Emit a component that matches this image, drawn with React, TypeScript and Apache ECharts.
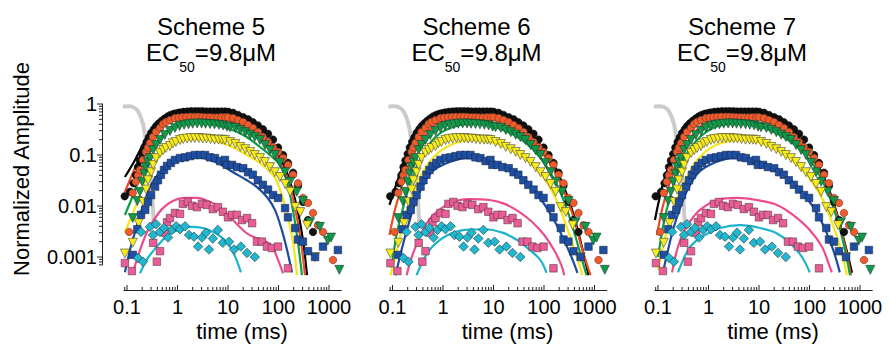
import React, { useEffect, useRef } from 'react';
import * as echarts from 'echarts';

// ---------- text ----------
const panelTitles = ['Scheme 5', 'Scheme 6', 'Scheme 7'];
const ecLabel = { pre: 'EC', sub: '50', post: '=9.8\u03bcM' };
const xTickLabels = ['0.1', '1', '10', '100', '1000'];
const yTickLabels = ['0.001', '0.01', '0.1', '1'];
const xAxisTitle = 'time (ms)';
const yAxisTitle = 'Normalized Amplitude';

// ---------- data: [time (ms), normalized amplitude] ----------
const stimulusTrace = [[0.083,0.88],[0.1,0.9],[0.12,0.89],[0.14,0.84],[0.158,0.76],[0.18,0.61],[0.207,0.405],[0.227,0.247],[0.245,0.16],[0.26,0.12],[0.285,0.07],[0.3,0.04],[0.313,0.021],[0.327,0.0084],[0.343,0.0037]];

const blackCircles = [[0.09,0.0155],[0.115,0.019],[0.135,0.028],[0.15,0.04],[0.165,0.058],[0.18,0.078],[0.2,0.105],[0.22,0.14],[0.245,0.18],[0.27,0.22],[0.3,0.27],[0.34,0.32],[0.38,0.37],[0.43,0.42],[0.49,0.47],[0.56,0.52],[0.64,0.57],[0.73,0.61],[0.84,0.64],[0.96,0.66],[1.1,0.68],[1.3,0.7],[1.55,0.71],[1.85,0.72],[2.2,0.72],[2.6,0.72],[3.1,0.72],[3.7,0.71],[4.4,0.71],[5.2,0.71],[6.2,0.71],[7.4,0.71],[8.8,0.71],[10.2,0.7],[12.6,0.67],[15.8,0.61],[20,0.55],[25,0.5],[31,0.44],[39,0.38],[49,0.32],[62,0.26],[78,0.2],[98,0.14],[123,0.1],[154,0.07],[194,0.045],[243,0.025],[305,0.012],[384,0.0053],[482,0.0031]];
const orangeCircles = [[0.11,0.0031],[0.13,0.018],[0.15,0.03],[0.165,0.04],[0.18,0.051],[0.207,0.08],[0.238,0.115],[0.26,0.14],[0.285,0.172],[0.327,0.225],[0.375,0.282],[0.45,0.339],[0.516,0.405],[0.59,0.444],[0.71,0.485],[0.89,0.53],[1.05,0.54],[1.25,0.55],[1.5,0.555],[1.8,0.56],[2.2,0.56],[2.6,0.56],[3.1,0.555],[3.7,0.55],[4.4,0.55],[5.2,0.545],[6.2,0.545],[7.4,0.55],[8.8,0.55],[10,0.55],[12.6,0.53],[15.8,0.485],[19.9,0.444],[24.9,0.388],[31.3,0.339],[39.3,0.282],[49.3,0.225],[62,0.18],[78,0.144],[98,0.115],[123,0.087],[154,0.064],[194,0.041],[243,0.028],[305,0.0144],[384,0.0115],[482,0.0073],[605,0.0042],[760,0.0031],[1200,0.00087]];
const greenTriangles = [[0.13,0.0058],[0.16,0.0125],[0.18,0.019],[0.2,0.03],[0.22,0.043],[0.238,0.058],[0.26,0.072],[0.285,0.087],[0.33,0.125],[0.375,0.157],[0.45,0.197],[0.56,0.247],[0.71,0.295],[0.89,0.34],[1.1,0.37],[1.35,0.39],[1.65,0.4],[2.0,0.41],[2.45,0.415],[3.0,0.415],[3.6,0.41],[4.4,0.405],[5.4,0.4],[6.6,0.39],[8.0,0.38],[9.6,0.36],[11,0.35],[14,0.34],[17.5,0.31],[22,0.28],[27.5,0.25],[34,0.225],[43,0.197],[54,0.157],[68,0.125],[85,0.1],[107,0.07],[135,0.046],[170,0.03],[230,0.019],[305,0.0125],[420,0.0048],[660,0.0039],[950,0.0021],[1100,0.0024],[1600,0.00056]];
const yellowTriangles = [[0.091,0.00117],[0.13,0.0019],[0.17,0.0046],[0.21,0.012],[0.24,0.021],[0.26,0.032],[0.3,0.046],[0.33,0.064],[0.375,0.087],[0.45,0.11],[0.52,0.125],[0.59,0.137],[0.71,0.15],[0.81,0.17],[0.93,0.18],[1.12,0.197],[1.3,0.205],[1.55,0.21],[1.85,0.215],[2.2,0.215],[2.65,0.215],[3.15,0.21],[3.75,0.21],[4.5,0.205],[5.4,0.2],[6.5,0.2],[7.6,0.2],[8.7,0.197],[11,0.18],[14,0.165],[17.5,0.144],[22,0.13],[27.5,0.115],[34,0.1],[43,0.087],[54,0.073],[68,0.058],[85,0.046],[107,0.037],[135,0.027],[170,0.019],[215,0.0095],[270,0.0076],[370,0.0042],[530,0.001]];
const blueSquares = [[0.13,0.0011],[0.16,0.0035],[0.19,0.0067],[0.23,0.0084],[0.26,0.012],[0.3,0.0164],[0.36,0.024],[0.41,0.032],[0.47,0.041],[0.54,0.051],[0.62,0.061],[0.74,0.07],[0.89,0.08],[1.12,0.087],[1.41,0.09],[1.77,0.095],[2.22,0.1],[2.79,0.1],[3.5,0.1],[4.4,0.09],[5.5,0.087],[7,0.076],[8.7,0.08],[9.5,0.064],[12,0.064],[15,0.058],[20,0.055],[25,0.046],[31,0.041],[39,0.032],[49,0.026],[62,0.021],[78,0.0164],[98,0.0144],[135,0.0091],[154,0.006],[215,0.0037],[243,0.0022],[305,0.002],[384,0.0013],[530,0.001],[760,0.0016],[1500,0.00137]];
const pinkSquares = [[0.091,0.00076],[0.125,0.00053],[0.33,0.0019],[0.39,0.00081],[0.45,0.0013],[0.56,0.003],[0.62,0.0048],[0.71,0.0058],[0.89,0.0073],[1.12,0.007],[1.28,0.011],[1.6,0.012],[1.94,0.0101],[2.43,0.0095],[3.05,0.011],[3.8,0.0105],[5.0,0.0087],[6.3,0.0095],[7.9,0.0077],[10,0.006],[12,0.0067],[15,0.0067],[19,0.0053],[23.8,0.0058],[30,0.0046],[37.5,0.002],[47,0.002],[59,0.0016],[74,0.0015],[98,0.0016],[154,0.0006]];
const cyanDiamonds = [[0.165,0.00096],[0.19,0.0031],[0.207,0.00081],[0.285,0.0039],[0.327,0.0027],[0.375,0.0044],[0.45,0.0031],[0.54,0.0037],[0.65,0.0024],[0.78,0.0034],[0.94,0.004],[1.12,0.0035],[1.41,0.004],[1.69,0.0027],[2.12,0.0025],[2.55,0.0016],[3.05,0.0024],[3.67,0.003],[4.2,0.0014],[5.0,0.0023],[6.3,0.0034],[7.9,0.0019],[10.5,0.002],[13.2,0.0014],[18,0.0016],[23.8,0.0012],[34,0.001]];

// model curves, Scheme 5
const scheme5Black = [[0.091,0.037],[0.144,0.08],[0.227,0.188],[0.358,0.354],[0.565,0.508],[0.89,0.637],[1.41,0.729],[2.79,0.763],[5.5,0.729],[11,0.608],[21.8,0.444],[43.3,0.27],[85.6,0.125],[135,0.0556],[185,0.0225],[243,0.0076],[305,0.00215],[367,0.00044]];
const scheme5Orange = [[0.091,0.0188],[0.144,0.0556],[0.227,0.1435],[0.358,0.282],[0.565,0.424],[0.89,0.531],[1.41,0.582],[2.79,0.608],[5.5,0.556],[11,0.464],[21.8,0.338],[43.3,0.206],[85.6,0.1],[135,0.0464],[169,0.0258],[212,0.00914],[267,0.0027],[335,0.00044]];
const scheme5Green = [[0.091,0.00666],[0.144,0.0206],[0.227,0.0729],[0.358,0.164],[0.565,0.27],[0.89,0.354],[1.41,0.405],[2.79,0.424],[5.5,0.388],[11,0.323],[21.8,0.236],[43.3,0.1435],[67.9,0.1],[107,0.0637],[147,0.0296],[185,0.0105],[232,0.0027],[292,0.00044]];
const scheme5Yellow = [[0.091,0.00309],[0.144,0.00914],[0.227,0.0296],[0.358,0.0697],[0.565,0.125],[0.89,0.172],[1.41,0.197],[2.79,0.206],[5.5,0.188],[11,0.15],[21.8,0.105],[43.3,0.0697],[62,0.0508],[85.6,0.0354],[117,0.0164],[154,0.00582],[194,0.00197],[232,0.00044]];
const scheme5Blue = [[0.091,0.0005],[0.115,0.0014],[0.144,0.0031],[0.181,0.0067],[0.227,0.0131],[0.285,0.0235],[0.36,0.035],[0.45,0.046],[0.62,0.064],[0.89,0.08],[1.41,0.091],[2.4,0.091],[4.4,0.08],[6.95,0.066],[12.6,0.046],[23.7,0.032],[37.5,0.0235],[59,0.015],[85,0.0084],[116,0.0034],[147,0.0014],[185,0.0005]];
const scheme5Pink = [[0.131,0.0005],[0.181,0.00137],[0.249,0.0031],[0.36,0.0058],[0.516,0.0091],[0.81,0.0125],[1.41,0.0144],[2.43,0.0144],[4.0,0.0125],[6.3,0.01],[10,0.0067],[15.8,0.0042],[24.9,0.0028],[39,0.0023],[62,0.0019],[81,0.00137],[102,0.00079],[123,0.00048]];
const scheme5Cyan = [[0.181,0.00048],[0.26,0.00096],[0.39,0.0016],[0.62,0.0026],[1.02,0.0034],[1.77,0.0039],[3.2,0.0037],[5.1,0.0031],[7.6,0.0024],[11,0.0016],[14.2,0.00096],[18,0.0005]];

// model curves, Scheme 6
const scheme6Black = [[0.087,0.0105],[0.109,0.0206],[0.144,0.0464],[0.198,0.1095],[0.285,0.225],[0.45,0.405],[0.71,0.556],[1.12,0.667],[2.22,0.729],[4.4,0.729],[8.7,0.667],[17.3,0.531],[34.4,0.371],[62,0.225],[107,0.115],[169,0.0556],[243,0.0247],[335,0.0105],[440,0.0042],[553,0.0017],[663,0.0008],[760,0.00044]];
const scheme6Orange = [[0.087,0.0027],[0.109,0.0076],[0.144,0.0206],[0.198,0.0556],[0.285,0.125],[0.45,0.247],[0.71,0.388],[1.12,0.485],[2.22,0.556],[4.4,0.556],[8.7,0.508],[17.3,0.405],[34.4,0.282],[62,0.172],[107,0.0914],[169,0.0464],[243,0.0206],[335,0.00914],[440,0.0037],[553,0.00157],[695,0.00076],[833,0.00044]];
const scheme6Green = [[0.0955,0.00061],[0.12,0.0027],[0.158,0.0084],[0.217,0.0247],[0.313,0.0637],[0.471,0.137],[0.71,0.225],[1.12,0.309],[2.22,0.388],[4.4,0.405],[8.7,0.371],[17.3,0.296],[34.4,0.206],[62,0.125],[107,0.0637],[169,0.0296],[243,0.0131],[335,0.0053],[440,0.00215],[553,0.00096],[695,0.00044]];
const scheme6Yellow = [[0.091,0.00044],[0.12,0.00125],[0.165,0.00486],[0.238,0.0157],[0.358,0.0388],[0.565,0.0763],[0.89,0.12],[1.41,0.157],[2.43,0.188],[4.4,0.197],[8.7,0.18],[17.3,0.1435],[34.4,0.1],[62,0.0609],[107,0.032],[169,0.0144],[243,0.00582],[335,0.0024],[440,0.00104],[578,0.00044]];
const scheme6Blue = [[0.115,0.00044],[0.151,0.00137],[0.198,0.0037],[0.26,0.0091],[0.375,0.0224],[0.62,0.048],[1.35,0.073],[2.9,0.087],[7.3,0.08],[18.2,0.056],[45,0.03],[81,0.015],[147,0.006],[232,0.0025],[350,0.001],[460,0.00049]];
const scheme6Pink = [[0.19,0.00044],[0.249,0.0011],[0.343,0.0024],[0.49,0.0048],[0.74,0.0076],[1.54,0.012],[3.35,0.0137],[8.4,0.0131],[16.6,0.011],[32.8,0.0076],[59,0.0048],[101,0.0027],[158,0.00137],[220,0.0007],[252,0.00044]];
const scheme6Cyan = [[0.3,0.00044],[0.43,0.00096],[0.62,0.0016],[1.17,0.0026],[2.67,0.0034],[6.6,0.0035],[15,0.003],[29.5,0.00215],[51,0.0014],[85,0.00087],[112,0.00049]];

// model curves, Scheme 7
const scheme7Black = [[0.087,0.0053],[0.105,0.0131],[0.131,0.032],[0.181,0.08],[0.26,0.197],[0.41,0.388],[0.71,0.582],[1.41,0.7],[2.79,0.729],[5.5,0.7],[11,0.608],[21.8,0.464],[43.3,0.296],[74,0.172],[123,0.087],[185,0.0405],[267,0.0164],[367,0.0061],[482,0.00215],[605,0.00087],[695,0.00049]];
const scheme7Orange = [[0.0955,0.0027],[0.12,0.0084],[0.158,0.0225],[0.217,0.058],[0.313,0.125],[0.471,0.236],[0.71,0.371],[1.12,0.485],[2.22,0.556],[4.4,0.556],[8.7,0.508],[17.3,0.405],[34.4,0.282],[62,0.172],[107,0.0914],[169,0.0444],[243,0.0188],[335,0.0076],[440,0.0029],[553,0.0011],[663,0.00044]];
const scheme7Green = [[0.1,0.001],[0.137,0.006],[0.19,0.0206],[0.273,0.0556],[0.392,0.115],[0.565,0.188],[0.89,0.282],[1.54,0.371],[2.79,0.405],[5.5,0.405],[11,0.354],[21.8,0.27],[43.3,0.18],[74,0.115],[123,0.0609],[185,0.0296],[267,0.0125],[367,0.00486],[482,0.0017],[634,0.00044]];
const scheme7Yellow = [[0.1,0.00056],[0.125,0.00157],[0.158,0.0039],[0.217,0.0105],[0.313,0.0258],[0.493,0.0609],[0.81,0.1095],[1.41,0.157],[2.55,0.188],[4.8,0.197],[9.5,0.18],[19,0.137],[37.5,0.0914],[68,0.0556],[117,0.028],[185,0.0131],[267,0.0053],[367,0.00215],[460,0.00096],[553,0.00044]];
const scheme7Blue = [[0.125,0.0005],[0.158,0.00137],[0.198,0.0034],[0.273,0.0091],[0.392,0.0215],[0.65,0.0464],[1.41,0.073],[3.05,0.087],[7.6,0.08],[19,0.0556],[47,0.0296],[85.6,0.015],[147,0.0067],[221,0.0029],[305,0.00125],[398,0.0005]];
const scheme7Pink = [[0.19,0.0005],[0.238,0.00137],[0.313,0.0029],[0.45,0.0053],[0.68,0.0084],[1.47,0.0131],[3.67,0.0144],[9.1,0.0131],[22.7,0.0105],[47,0.0067],[101,0.0034],[178,0.00157],[252,0.00064],[276,0.0005]];
const scheme7Cyan = [[0.249,0.0005],[0.327,0.00096],[0.43,0.00157],[0.59,0.00215],[0.85,0.0027],[1.69,0.0037],[4.2,0.0042],[10.5,0.0037],[22.7,0.0029],[41,0.00189],[71,0.001],[101,0.0005]];

const fitsByPanel = [
  [scheme5Black, scheme5Orange, scheme5Green, scheme5Yellow, scheme5Blue, scheme5Pink, scheme5Cyan],
  [scheme6Black, scheme6Orange, scheme6Green, scheme6Yellow, scheme6Blue, scheme6Pink, scheme6Cyan],
  [scheme7Black, scheme7Orange, scheme7Green, scheme7Yellow, scheme7Blue, scheme7Pink, scheme7Cyan],
];
const measured = [blackCircles, orangeCircles, greenTriangles, yellowTriangles, blueSquares, pinkSquares, cyanDiamonds];

// ---------- styles ----------
const FONT = "'Liberation Sans', Arial, Helvetica, sans-serif";
const lineColors = ['#000000', '#ef4a24', '#0f9d48', '#f5e61a', '#1d4b9f', '#ec4b8c', '#1bb4cd'];
const markerStyles = [
  { symbol: 'circle', size: 7.5, rotate: 0, fill: '#111111', stroke: '#000000' },
  { symbol: 'circle', size: 7.5, rotate: 0, fill: '#f15a2b', stroke: '#6a3a2a' },
  { symbol: 'triangle', size: 9, rotate: 180, fill: '#10994a', stroke: '#1e3a28' },
  { symbol: 'triangle', size: 9, rotate: 180, fill: '#f7ec1e', stroke: '#4a4630' },
  { symbol: 'rect', size: 7.5, rotate: 0, fill: '#1e4fa2', stroke: '#1a2a4a' },
  { symbol: 'rect', size: 7.5, rotate: 0, fill: '#ea5c95', stroke: '#5a3a46' },
  { symbol: 'diamond', size: 9.5, rotate: 0, fill: '#23b6cf', stroke: '#1a3a40' },
];

// ---------- layout (pixels) ----------
const X01 = [127, 392.5, 658]; // pixel of t = 0.1 in each panel
const PX_DEC_X = 50.5;
const PX_DEC_Y = 51;
const Y_ONE = 104; // pixel of amplitude = 1
const DATA_X = [0.05, 2000];
const DATA_Y = [0.0004, 2];
const AXIS_X = [0.087, 1750];
const AXIS_Y = [0.0007, 1];
const X_AXIS_LINE_Y = 290;
const Y_AXIS_LINE_X = 102;

const lg = Math.log10;

function decadeLabel(labels: string[], firstExp: number) {
  return (v: number) => {
    const e = lg(v);
    const r = Math.round(e);
    if (Math.abs(e - r) > 1e-6) return '';
    return labels[r - firstExp] ?? '';
  };
}

function logTicks(lo: number, hi: number) {
  const out: number[][] = [];
  for (let e = -4; e <= 3; e++) {
    for (let k = 1; k <= 9; k++) {
      const v = k * Math.pow(10, e);
      if (v >= lo * 0.9999 && v <= hi * 1.0001) out.push([v, k === 1 ? 1 : 0]);
    }
  }
  return out;
}

export default function App() {
  const ref = useRef<HTMLDivElement>(null);

  useEffect(() => {
    if (!ref.current) return;
    const chart = echarts.init(ref.current, undefined, { renderer: 'svg' });

    const grid: any[] = [];
    const xAxis: any[] = [];
    const yAxis: any[] = [];
    const series: any[] = [];
    const graphic: any[] = [];

    // data grids 0..2
    for (let p = 0; p < 3; p++) {
      grid.push({
        left: X01[p] - PX_DEC_X * lg(0.1 / DATA_X[0]),
        width: PX_DEC_X * lg(DATA_X[1] / DATA_X[0]),
        top: Y_ONE - PX_DEC_Y * lg(DATA_Y[1]),
        height: PX_DEC_Y * lg(DATA_Y[1] / DATA_Y[0]),
      });
      xAxis.push({ type: 'log', gridIndex: p, min: DATA_X[0], max: DATA_X[1], show: false });
      yAxis.push({ type: 'log', gridIndex: p, min: DATA_Y[0], max: DATA_Y[1], show: false });
    }
    // grid 3: visible y axis of first panel
    grid.push({
      left: Y_AXIS_LINE_X,
      width: 10,
      top: Y_ONE - PX_DEC_Y * lg(AXIS_Y[1]),
      height: PX_DEC_Y * lg(AXIS_Y[1] / AXIS_Y[0]),
    });
    xAxis.push({ type: 'value', gridIndex: 3, min: 0, max: 1, show: false });
    yAxis.push({
      type: 'log', gridIndex: 3, min: AXIS_Y[0], max: AXIS_Y[1],
      axisLine: { show: true, lineStyle: { color: '#222', width: 1 } },
      axisTick: { show: false },
      splitLine: { show: false },
      axisLabel: { fontSize: 20, fontFamily: FONT, color: '#000', margin: 5, formatter: decadeLabel(yTickLabels, -3) },
    });
    // grids 4..6: visible x axes
    for (let p = 0; p < 3; p++) {
      const gi = 4 + p;
      grid.push({
        left: X01[p] - PX_DEC_X * lg(0.1 / AXIS_X[0]),
        width: PX_DEC_X * lg(AXIS_X[1] / AXIS_X[0]),
        top: X_AXIS_LINE_Y - 10,
        height: 10,
      });
      xAxis.push({
        type: 'log', gridIndex: gi, min: AXIS_X[0], max: AXIS_X[1], position: 'bottom',
        axisLine: { show: true, lineStyle: { color: '#222', width: 1 } },
        axisTick: { show: false },
        splitLine: { show: false },
        axisLabel: { fontSize: 20, fontFamily: FONT, color: '#000', margin: 7, formatter: decadeLabel(xTickLabels, -1) },
      });
      yAxis.push({ type: 'value', gridIndex: gi, min: 0, max: 1, show: false });
    }

    // panel series
    for (let p = 0; p < 3; p++) {
      series.push({
        type: 'line', xAxisIndex: p, yAxisIndex: p, data: stimulusTrace, showSymbol: false, symbol: 'none',
        smooth: 0.4, lineStyle: { color: '#cbcbcb', width: 4 }, silent: true, z: 1,
      });
      fitsByPanel[p].forEach((d, i) => {
        series.push({
          type: 'line', xAxisIndex: p, yAxisIndex: p, data: d, symbol: 'none', showSymbol: false,
          smooth: 0.35, clip: true, lineStyle: { color: lineColors[i], width: 2.2 }, silent: true, z: 2,
        });
      });
      measured.forEach((d, i) => {
        const m = markerStyles[i];
        series.push({
          type: 'scatter', xAxisIndex: p, yAxisIndex: p, data: d, symbol: m.symbol, symbolSize: m.size,
          symbolRotate: m.rotate, clip: false, silent: true, z: 3,
          itemStyle: { color: m.fill, borderColor: m.stroke, borderWidth: 0.6, opacity: 1 },
        });
      });
    }

    // tick marks (custom series through the axes' own scales)
    const yTicks = logTicks(AXIS_Y[0], AXIS_Y[1]);
    series.push({
      type: 'custom', xAxisIndex: 3, yAxisIndex: 3, silent: true, z: 5,
      data: yTicks.map(t => [0, t[0], t[1]]),
      renderItem: (_params: any, api: any) => {
        const pt = api.coord([0, api.value(1)]);
        const len = api.value(2) ? 5 : 3;
        return { type: 'line', shape: { x1: pt[0] - len, y1: pt[1], x2: pt[0], y2: pt[1] }, style: { stroke: '#222', lineWidth: 1 } };
      },
    });
    const xTicks = logTicks(AXIS_X[0], AXIS_X[1]);
    for (let p = 0; p < 3; p++) {
      series.push({
        type: 'custom', xAxisIndex: 4 + p, yAxisIndex: 4 + p, silent: true, z: 5,
        data: xTicks.map(t => [t[0], 0, t[1]]),
        renderItem: (_params: any, api: any) => {
          const pt = api.coord([api.value(0), 0]);
          const len = api.value(2) ? 5 : 3;
          return { type: 'line', shape: { x1: pt[0], y1: pt[1], x2: pt[0], y2: pt[1] - len }, style: { stroke: '#222', lineWidth: 1 } };
        },
      });
    }

    // texts
    for (let p = 0; p < 3; p++) {
      const cx = X01[p] + 84;
      graphic.push({
        type: 'text', x: cx, y: 26, silent: true,
        style: { text: panelTitles[p], fontSize: 24, fontFamily: FONT, fill: '#000', align: 'center', verticalAlign: 'middle' },
      });
      graphic.push({
        type: 'text', x: cx, y: 57, silent: true,
        style: {
          text: `{a|${ecLabel.pre}}{b|${ecLabel.sub}}{a|${ecLabel.post}}`,
          align: 'center', verticalAlign: 'middle', fill: '#000',
          rich: {
            a: { fontSize: 24, fontFamily: FONT, fill: '#000', lineHeight: 34, verticalAlign: 'top' },
            b: { fontSize: 14, fontFamily: FONT, fill: '#000', lineHeight: 15, verticalAlign: 'bottom' },
          },
        },
      });
      graphic.push({
        type: 'text', x: X01[p] + 115, y: 331, silent: true,
        style: { text: xAxisTitle, fontSize: 22, lineHeight: 22, fontFamily: FONT, fill: '#000', align: 'center', verticalAlign: 'middle' },
      });
    }
    graphic.push({
      type: 'text', x: 21, y: 169, rotation: Math.PI / 2, silent: true,
      style: { text: yAxisTitle, fontSize: 22, fontFamily: FONT, fill: '#000', align: 'center', verticalAlign: 'middle' },
    });

    chart.setOption({
      animation: false,
      backgroundColor: '#ffffff',
      grid, xAxis, yAxis, series, graphic,
    });

    return () => chart.dispose();
  }, []);

  return (
    <div
      ref={ref}
      style={{ position: 'absolute', left: 0, top: 0, width: 889, height: 345, background: '#fff' }}
    />
  );
}
